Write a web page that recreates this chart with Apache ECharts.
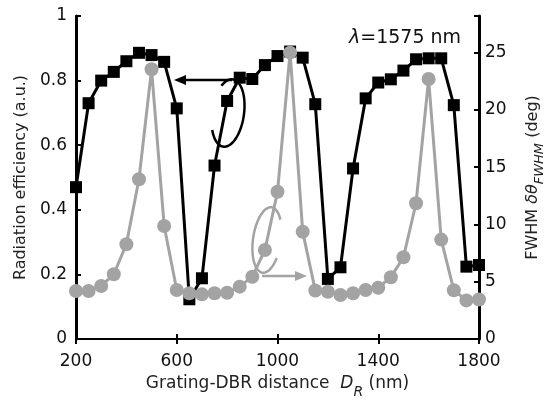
<!doctype html>
<html>
  <head>
    <meta charset="UTF-8" />
    <title>Radiation efficiency vs grating-DBR distance</title>
    <style>
      html, body { margin: 0; padding: 0; background: #fff; }
      #chart { width: 549px; height: 403px; }
    </style>
  </head>
  <body>
    <div id="chart"></div>
    <script src="https://cdn.jsdelivr.net/npm/echarts@6/dist/echarts.min.js"></script>
    <script>
      // data (50 nm steps)
      const distance = [200, 250, 300, 350, 400, 450, 500, 550, 600, 650, 700, 750, 800, 850, 900, 950, 1000,
        1050, 1100, 1150, 1200, 1250, 1300, 1350, 1400, 1450, 1500, 1550, 1600, 1650, 1700, 1750, 1800]
      const efficiency = [0.47, 0.73, 0.80, 0.827, 0.86, 0.886, 0.879, 0.858, 0.714, 0.123, 0.188, 0.537, 0.737,
        0.809, 0.805, 0.848, 0.876, 0.89, 0.871, 0.727, 0.186, 0.222, 0.528, 0.745, 0.794, 0.804, 0.831,
        0.866, 0.869, 0.869, 0.724, 0.224, 0.229]
      const fwhm = [4.19, 4.19, 4.63, 5.65, 8.27, 13.95, 23.55, 9.87, 4.28, 3.99, 3.9, 3.99, 4.04, 4.57, 5.44,
        7.77, 12.85, 25.0, 9.37, 4.23, 4.13, 3.84, 3.99, 4.28, 4.48, 5.39, 7.14, 11.85, 22.7, 8.68, 4.26,
        3.37, 3.45]
      const xTicks = [200, 600, 1000, 1400, 1800]
      const leftTicks = [0, 0.2, 0.4, 0.6, 0.8, 1]
      const rightTicks = [0, 5, 10, 15, 20, 25]

      const font = 'DejaVu Sans, Liberation Sans, sans-serif'
      const chart = echarts.init(document.getElementById('chart'))

      const tickOpt = { show: true, inside: true, length: 5, lineStyle: { color: '#000', width: 2 } }
      const labelOpt = { color: '#111', fontSize: 17, fontFamily: font }

      function ellipse (cx, cy, rx, ry, a0, a1, rot) {
        const pts = []
        const r = rot * Math.PI / 180
        for (let a = a0; a <= a1; a += 6) {
          const t = a * Math.PI / 180
          const x = rx * Math.cos(t)
          const y = ry * Math.sin(t)
          pts.push([cx + x * Math.cos(r) - y * Math.sin(r), cy + x * Math.sin(r) + y * Math.cos(r)])
        }
        return pts
      }

      const option = {
        animation: false,
        grid: { left: 76, right: 70, top: 16, bottom: 64, outerBoundsMode: 'none', containLabel: false },
        xAxis: [
          {
            type: 'value', min: 200, max: 1800, interval: 400,
            axisLine: { lineStyle: { color: '#000', width: 2 } },
            axisTick: tickOpt,
            splitLine: { show: false },
            axisLabel: Object.assign({ margin: 14, formatter: v => xTicks.includes(v) ? String(v) : '' }, labelOpt),
            name: '{n|Grating-DBR distance  }{i|D}{s|R}{n| (nm)}',
            nameLocation: 'middle',
            nameGap: 30,
            nameTextStyle: {
              rich: {
                n: { fontSize: 17, fontFamily: font, color: '#222' },
                i: { fontSize: 17, fontFamily: font, fontStyle: 'italic', color: '#222' },
                s: { fontSize: 14, fontFamily: font, fontStyle: 'italic', color: '#222', padding: [16, 0, 0, 0] }
              }
            }
          },
          {
            type: 'value', position: 'top', min: 200, max: 1800, interval: 400,
            axisLine: { lineStyle: { color: '#000', width: 2 } },
            axisTick: tickOpt,
            axisLabel: { show: false },
            splitLine: { show: false }
          }
        ],
        yAxis: [
          {
            type: 'value', min: 0, max: 1, interval: 0.2,
            axisLine: { show: true, lineStyle: { color: '#000', width: 3 } },
            axisTick: tickOpt,
            splitLine: { show: false },
            axisLabel: Object.assign({ margin: 9, formatter: v => leftTicks.some(t => Math.abs(t - v) < 1e-6) ? String(+v.toFixed(1)) : '' }, labelOpt),
            name: 'Radiation efficiency (a.u.)',
            nameLocation: 'middle',
            nameRotate: 90,
            nameGap: 45,
            nameTextStyle: { fontSize: 16, fontFamily: font, color: '#222' }
          },
          {
            type: 'value', min: 0, max: 28.2, interval: 5,
            position: 'right',
            axisLine: { show: true, lineStyle: { color: '#000', width: 3 } },
            axisTick: tickOpt,
            splitLine: { show: false },
            axisLabel: Object.assign({ margin: 6, formatter: v => rightTicks.includes(v) ? String(v) : '' }, labelOpt),
            name: '{n|FWHM }{i|δθ}{s|FWHM}{n| (deg)}',
            nameLocation: 'middle',
            nameRotate: 90,
            nameGap: 41,
            nameTextStyle: {
              rich: {
                n: { fontSize: 16, fontFamily: font, color: '#222' },
                i: { fontSize: 16, fontFamily: font, fontStyle: 'italic', color: '#222' },
                s: { fontSize: 13, fontFamily: font, fontStyle: 'italic', color: '#222', padding: [13, 0, 0, 0] }
              }
            }
          }
        ],
        series: [
          {
            name: 'efficiency', type: 'line', xAxisIndex: 0, yAxisIndex: 0,
            data: distance.map((d, i) => [d, efficiency[i]]),
            symbol: 'rect', symbolSize: 12,
            lineStyle: { color: '#000', width: 3 },
            itemStyle: { color: '#000' },
            z: 2
          },
          {
            name: 'fwhm', type: 'line', xAxisIndex: 0, yAxisIndex: 1,
            data: distance.map((d, i) => [d, fwhm[i]]),
            symbol: 'circle', symbolSize: 14,
            lineStyle: { color: '#a3a3a3', width: 3 },
            itemStyle: { color: '#a3a3a3' },
            z: 3
          }
        ],
        graphic: [
          {
            type: 'text', left: 349, top: 29,
            style: {
              text: '{i|λ}{n|=1575 nm}',
              rich: {
                i: { fontSize: 19, fontFamily: font, fontStyle: 'italic', fill: '#111' },
                n: { fontSize: 19, fontFamily: font, fill: '#111' }
              }
            }
          },
          // black lasso + arrow to left axis
          {
            type: 'polyline', z: 10,
            shape: { points: ellipse(228, 113, 16, 34, -130, 150, 8), smooth: 0.3 },
            style: { stroke: '#000', lineWidth: 2.5, fill: null }
          },
          {
            type: 'line', z: 10,
            shape: { x1: 232, y1: 80, x2: 180, y2: 80 },
            style: { stroke: '#000', lineWidth: 2.5 }
          },
          {
            type: 'polygon', z: 10,
            shape: { points: [[174, 80], [186, 75], [186, 85]] },
            style: { fill: '#000' }
          },
          // gray lasso + arrow to right axis
          {
            type: 'polyline', z: 10,
            shape: { points: ellipse(267, 240, 14, 33, 30, 318, 8), smooth: 0.3 },
            style: { stroke: '#a3a3a3', lineWidth: 2.5, fill: null }
          },
          {
            type: 'line', z: 10,
            shape: { x1: 262, y1: 276, x2: 300, y2: 276 },
            style: { stroke: '#a3a3a3', lineWidth: 2.5 }
          },
          {
            type: 'polygon', z: 10,
            shape: { points: [[307, 276], [295, 271], [295, 281]] },
            style: { fill: '#a3a3a3' }
          }
        ]
      }
      chart.setOption(option)
    </script>
  </body>
</html>
